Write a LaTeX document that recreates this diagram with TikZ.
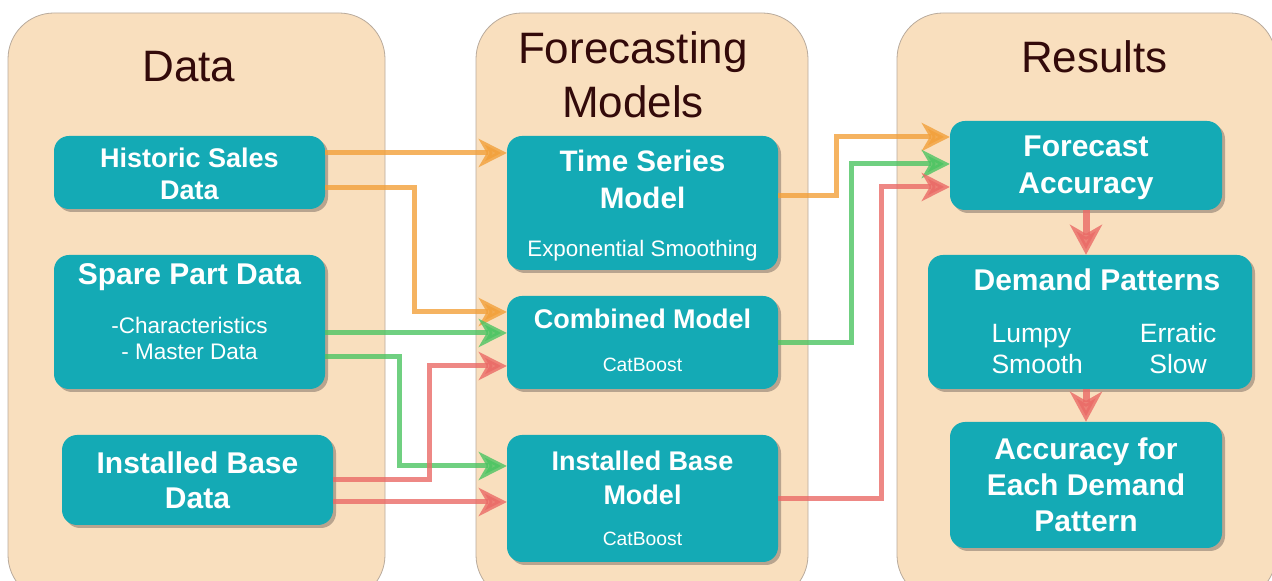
\documentclass[tikz,border=0pt]{standalone}
\usepackage{fontspec}
\setmainfont{Liberation Sans}
\usetikzlibrary{arrows.meta,positioning,shadows}
\definecolor{panelfill}{HTML}{F9DFBE}
\definecolor{panelline}{HTML}{B8AA9C}
\definecolor{boxteal}{HTML}{14AAB5}
\definecolor{boxshadow}{HTML}{B8A48F}
\definecolor{headc}{HTML}{330A0A}
\definecolor{ora}{HTML}{F2A03A}
\definecolor{grn}{HTML}{4CC462}
\definecolor{rd}{HTML}{EA6A66}

\begin{document}
\begin{tikzpicture}[x=1pt,y=1pt,>=Latex]
\tikzstyle{panelbox}=[draw=panelline,fill=panelfill,rounded corners=46pt,line width=0.8pt]
\tikzstyle{head}=[text=headc,font=\fontsize{44}{54}\selectfont,align=center,inner sep=0pt]
\tikzstyle{box}=[rectangle,fill=boxteal,rounded corners=15pt,text=white,align=center,minimum width=271pt,inner sep=0pt,drop shadow={shadow xshift=3pt,shadow yshift=-3pt,fill=boxshadow,opacity=1}]
\tikzstyle{flow}=[line width=5pt,-{Stealth[length=28pt,width=28pt,inset=8pt]},opacity=.8]
\tikzstyle{bigflow}=[line width=7pt,-{Stealth[length=30pt,width=32pt,inset=9pt]},opacity=.8,draw=rd]
\useasboundingbox (0,0) rectangle (1272,581);
\clip (0,0) rectangle (1272,581);
% columns
\path[panelbox] (8,-20) rectangle (385,568);
\path[panelbox] (476,-20) rectangle (808,568);
\path[panelbox] (897,-20) rectangle (1276,568);
\node[head,anchor=base] (hdata) at (189,499) {Data};
\node[head,anchor=north] (hmodels) at (633,550) {Forecasting\\Models};
\node[head,anchor=base] (hresults) at (1094.5,508) {Results};
% data
\node[box,minimum height=73pt,font=\fontsize{27}{32}\selectfont\bfseries] (hist) at (189.5,408.5) {\rule{0pt}{23pt}Historic Sales\\Data};
\node[box,minimum height=134pt,font=\fontsize{22.5}{26}\selectfont] (spare) at (189.5,259) {{\fontsize{30}{26}\selectfont\bfseries Spare Part Data}\\[23pt]-Characteristics\\- Master Data\rule[-21pt]{0pt}{0pt}};
\node[box,minimum height=90pt,font=\fontsize{30}{35}\selectfont\bfseries] (ibd) at (197.5,101) {Installed Base\\Data};
% models
\node[box,minimum height=134pt,font=\fontsize{29.6}{37}\selectfont\bfseries] (tsm) at (642.5,378) {\rule{0pt}{27pt}Time Series\\Model\\[11pt]{\fontsize{22.4}{26}\selectfont\mdseries Exponential Smoothing}\rule[-5pt]{0pt}{0pt}};
\node[box,minimum height=93pt,font=\fontsize{27}{32}\selectfont\bfseries] (comb) at (642.5,238.5) {Combined Model\\[11pt]{\fontsize{19.3}{24}\selectfont\mdseries CatBoost}\rule[-4pt]{0pt}{0pt}};
\node[box,minimum height=127pt,font=\fontsize{27}{34}\selectfont\bfseries] (ibm) at (642.5,82.5) {Installed Base\\Model\\[7pt]{\fontsize{19.3}{24}\selectfont\mdseries CatBoost}};
% results
\node[box,minimum width=272pt,minimum height=89pt,font=\fontsize{30}{37}\selectfont\bfseries] (facc) at (1086,415.5) {\rule{0pt}{25pt}Forecast\\Accuracy};
\node[box,minimum width=324pt,minimum height=134pt,font=\fontsize{30}{37}\selectfont\bfseries] (dpat) at (1090,259) {\hspace*{14pt}\rule{0pt}{30pt}Demand Patterns\\[15pt]{\fontsize{26.5}{31}\selectfont\mdseries\begin{tabular}[t]{@{\hspace{28pt}}l@{\hspace{57pt}}c@{}}Lumpy&Erratic\\Smooth&Slow\end{tabular}}};
\node[box,minimum width=272pt,minimum height=126pt,font=\fontsize{30}{36}\selectfont\bfseries] (eacc) at (1086,96) {Accuracy for\\Each Demand\\Pattern};
% inputs to models
\draw[flow,draw=ora] ([yshift=19.5pt]hist.east) -- ([yshift=50pt]tsm.west);
\draw[flow,draw=ora] ([yshift=-15.5pt]hist.east) -| ([xshift=-92pt,yshift=30.5pt]comb.west) -- ([yshift=30.5pt]comb.west);
\draw[flow,draw=grn] ([yshift=-11pt]spare.east) -- ([yshift=9.5pt]comb.west);
\draw[flow,draw=grn] ([yshift=-35pt]spare.east) -| ([xshift=-107pt,yshift=32.5pt]ibm.west) -- ([yshift=32.5pt]ibm.west);
\draw[flow,draw=rd] (ibd.east) -| ([xshift=-77pt,yshift=-23.5pt]comb.west) -- ([yshift=-23.5pt]comb.west);
\draw[flow,draw=rd] ([yshift=-22pt]ibd.east) -- ([yshift=-3.5pt]ibm.west);
% models to results
\draw[flow,draw=ora] ([yshift=7pt]tsm.east) -| ([xshift=-113pt,yshift=28.5pt]facc.west) -- ([yshift=28.5pt]facc.west);
\draw[flow,draw=grn] (comb.east) -| ([xshift=-98pt,yshift=1.5pt]facc.west) -- ([yshift=1.5pt]facc.west);
\draw[flow,draw=rd] (ibm.east) -| ([xshift=-68pt,yshift=-21.5pt]facc.west) -- ([yshift=-21.5pt]facc.west);
\draw[bigflow] (facc.south) -- (facc.south |- dpat.north);
\draw[bigflow] (eacc.north |- dpat.south) -- (eacc.north);
\end{tikzpicture}
\end{document}
